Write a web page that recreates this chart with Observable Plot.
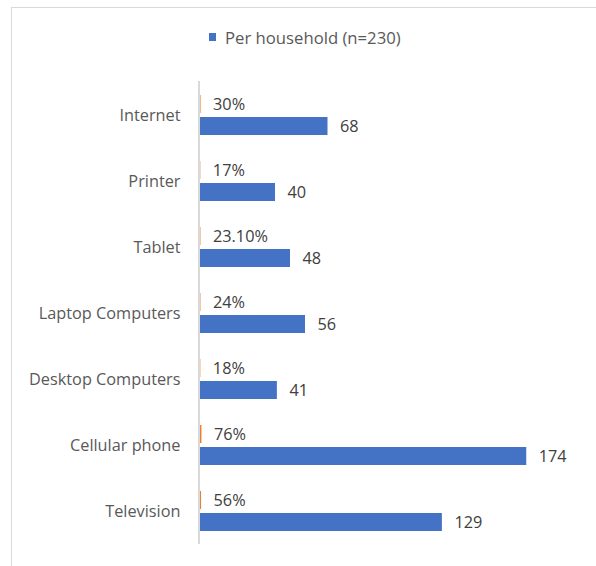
<!DOCTYPE html>
<html><head><meta charset="utf-8">
<script src="https://cdn.jsdelivr.net/npm/d3@7"></script>
<script src="https://cdn.jsdelivr.net/npm/@observablehq/plot@0.6"></script>
<style>
body{margin:0;background:#fff;font-family:"Open Sans",sans-serif;}
#wrap{position:relative;width:596px;height:566px;overflow:hidden;background:#fff;}
#frame{position:absolute;left:11px;top:7px;right:-5px;bottom:-5px;border-top:1.5px solid #d9d9d9;border-left:1.5px solid #d9d9d9;pointer-events:none;}
#legend{position:absolute;left:209px;top:26px;height:22px;display:flex;align-items:center;font-size:16.7px;color:#595959;}
#legend .sw{width:7px;height:8px;background:#4472c4;margin-right:9px;}
#chart{position:absolute;left:0;top:60px;}
</style></head>
<body>
<div id="wrap">
  <div id="frame"></div>
  <div id="legend"><span class="sw"></span><span id="legtext"></span></div>
  <div id="chart"></div>
</div>
<script>
const categories = ["Internet", "Printer", "Tablet", "Laptop Computers", "Desktop Computers", "Cellular phone", "Television"];
const perHousehold = [68, 40, 48, 56, 41, 174, 129];
const percentValues = [0.30, 0.17, 0.231, 0.24, 0.18, 0.76, 0.56];
const percentLabels = ["30%", "17%", "23.10%", "24%", "18%", "76%", "56%"];
const seriesName = "Per household (n=230)";

document.getElementById("legtext").textContent = seriesName;

const rows = categories.map((c, i) => ({
  cat: c, count: perHousehold[i], pct: percentValues[i], pctLabel: percentLabels[i]
}));

const chart = Plot.plot({
  width: 596,
  height: 506,
  marginLeft: 200,
  marginRight: 21,
  marginTop: 21,
  marginBottom: 22,
  style: {fontFamily: "'Open Sans', sans-serif", background: "transparent"},
  x: {domain: [0, 200], axis: null},
  y: {domain: categories, padding: 0, label: null},
  marks: [
    Plot.axisY({tickSize: 0, tickPadding: 20, fontSize: 16.3, color: "#595959", label: null}),
    Plot.ruleX([0], {stroke: "#d9d9d9", strokeWidth: 2, dx: -1.5}),
    Plot.barX(rows, {y: "cat", x: "pct", fill: "#ed7d31", insetTop: 13, insetBottom: 35}),
    Plot.barX(rows, {y: "cat", x: "count", fill: "#4472c4", insetTop: 35, insetBottom: 13}),
    Plot.text(rows, {y: "cat", x: "pct", text: "pctLabel", dx: 12, dy: -11, textAnchor: "start", fontSize: 16.3, fill: "#404040"}),
    Plot.text(rows, {y: "cat", x: "count", text: d => String(d.count), dx: 12, dy: 11, textAnchor: "start", fontSize: 16.3, fill: "#404040"})
  ]
});
document.getElementById("chart").appendChild(chart);
</script>
</body></html>
